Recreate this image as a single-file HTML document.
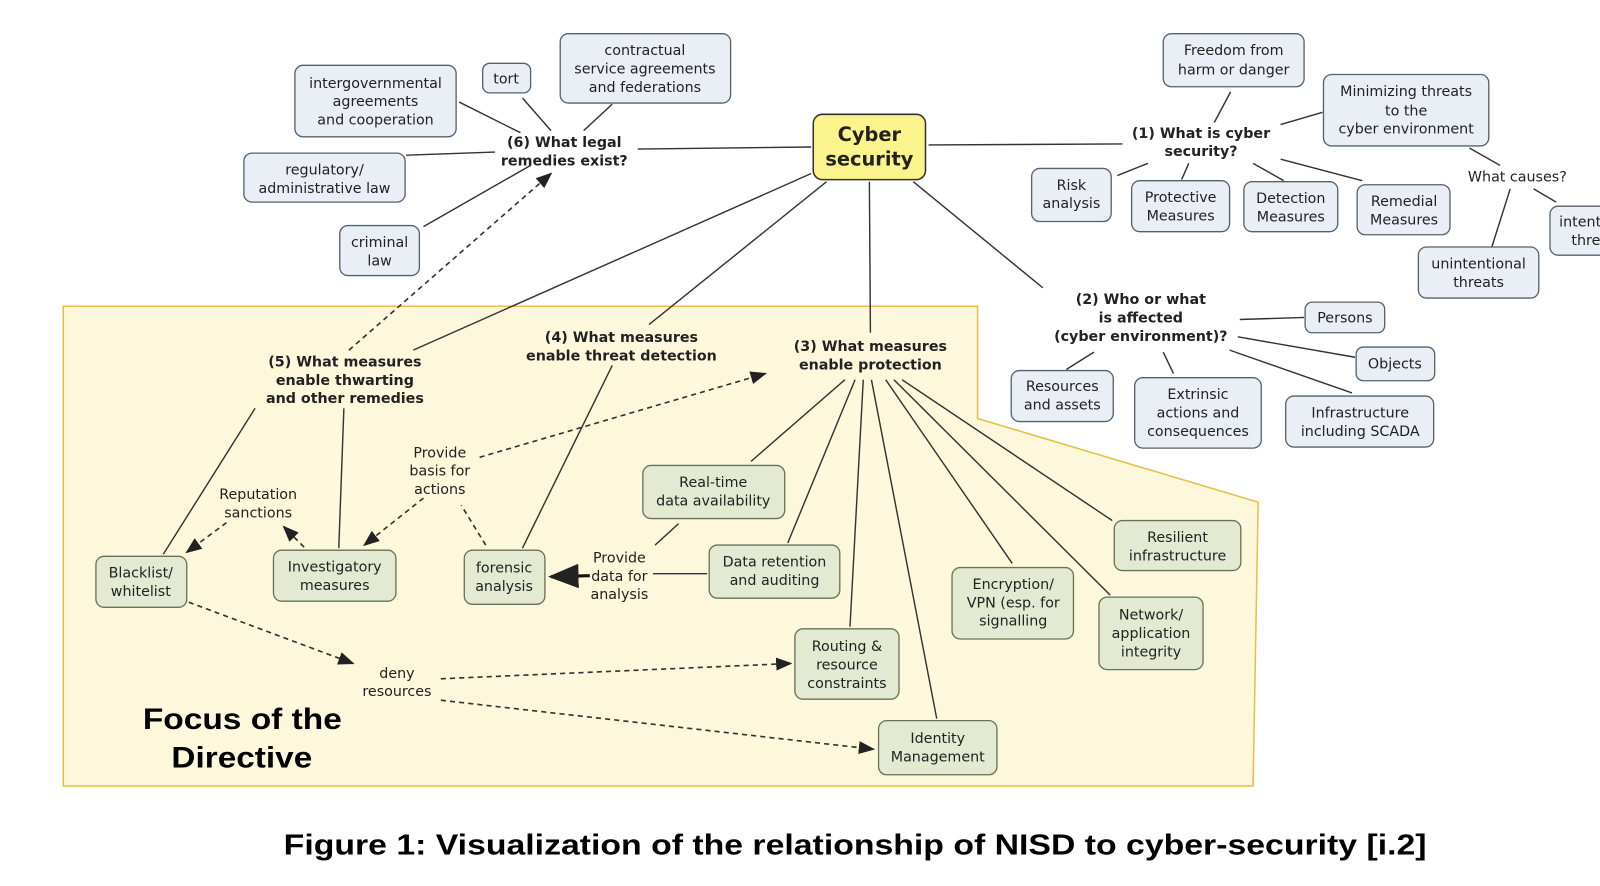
<!DOCTYPE html>
<html><head><meta charset="utf-8"><style>
html,body{margin:0;padding:0;background:#fff;width:1600px;height:886px;overflow:hidden}
svg{display:block}
text{font-family:"DejaVu Sans","Liberation Sans",sans-serif;fill:#222}
.n{font-size:14px}
.b{font-size:14px;font-weight:bold}
.bx{fill:#e9eff5;stroke:#55626e;stroke-width:1.3}
.gx{fill:#e3ead1;stroke:#66735a;stroke-width:1.3}
.l{stroke:#333;stroke-width:1.4;fill:none}
.d{stroke:#333;stroke-width:1.6;fill:none;stroke-dasharray:5,4}
</style></head><body>
<svg width="1600" height="886" viewBox="0 0 1568 868" preserveAspectRatio="none">
<defs><marker id="a" markerWidth="10" markerHeight="10" refX="9" refY="5" orient="auto"><path d="M0,1 L10,5 L0,9 z" fill="#222"/></marker></defs>
<polygon points="62,300 958,300 958,410 1233,492 1228,770 62,770" fill="#fdf8dc" stroke="#e8c040" stroke-width="1.5"/>
<g class="l">
<line x1="625" y1="146" x2="795" y2="144"/><line x1="910" y1="142" x2="1100" y2="141"/>
<line x1="450" y1="100" x2="510" y2="130"/><line x1="512" y1="96" x2="540" y2="128"/><line x1="600" y1="102" x2="572" y2="128"/>
<line x1="398" y1="152" x2="485" y2="149"/><line x1="415" y1="222" x2="520" y2="162"/>
<line x1="1190" y1="120" x2="1206" y2="90"/><line x1="1255" y1="122" x2="1296" y2="110"/>
<line x1="1095" y1="172" x2="1125" y2="160"/><line x1="1158" y1="176" x2="1165" y2="160"/><line x1="1228" y1="160" x2="1258" y2="177"/><line x1="1255" y1="156" x2="1335" y2="177"/>
<line x1="1440" y1="145" x2="1470" y2="162"/><line x1="1480" y1="185" x2="1462" y2="242"/><line x1="1503" y1="185" x2="1525" y2="198"/>
<line x1="895" y1="178" x2="1022" y2="282"/>
<line x1="1215" y1="313" x2="1278" y2="311"/><line x1="1213" y1="330" x2="1328" y2="350"/><line x1="1205" y1="343" x2="1325" y2="385"/>
<line x1="1072" y1="345" x2="1045" y2="362"/><line x1="1140" y1="345" x2="1150" y2="366"/>
<line x1="852" y1="178" x2="853" y2="326"/><line x1="810" y1="178" x2="636" y2="318"/><line x1="795" y1="170" x2="405" y2="343"/>
<line x1="250" y1="400" x2="160" y2="543"/><line x1="337" y1="400" x2="332" y2="537"/><line x1="600" y1="358" x2="512" y2="537"/>
<line x1="828" y1="372" x2="736" y2="452"/><line x1="838" y1="372" x2="772" y2="532"/><line x1="846" y1="372" x2="833" y2="614"/>
<line x1="854" y1="372" x2="918" y2="704"/><line x1="868" y1="372" x2="992" y2="552"/><line x1="876" y1="372" x2="1088" y2="583"/><line x1="884" y1="372" x2="1090" y2="510"/>
<line x1="665" y1="513" x2="642" y2="534"/><line x1="693" y1="562" x2="640" y2="562"/>
</g>
<line x1="578" y1="564" x2="540" y2="565" stroke="#111" stroke-width="3" marker-end="url(#a)"/>
<g class="d">
<line x1="342" y1="343" x2="540" y2="170" marker-end="url(#a)"/>
<line x1="470" y1="448" x2="750" y2="366" marker-end="url(#a)"/>
<line x1="415" y1="488" x2="357" y2="534" marker-end="url(#a)"/>
<line x1="476" y1="534" x2="452" y2="495"/>
<line x1="222" y1="512" x2="183" y2="541" marker-end="url(#a)"/>
<line x1="298" y1="536" x2="278" y2="516" marker-end="url(#a)"/>
<line x1="185" y1="590" x2="346" y2="650" marker-end="url(#a)"/>
<line x1="432" y1="665" x2="775" y2="650" marker-end="url(#a)"/>
<line x1="432" y1="686" x2="856" y2="734" marker-end="url(#a)"/>
</g>
<rect x="797" y="112" width="110" height="64" rx="9" fill="#fbf38c" stroke="#333" stroke-width="1.5"/>
<text class="b" x="852" y="138" text-anchor="middle" style="font-size:19px">Cyber</text>
<text class="b" x="852" y="162" text-anchor="middle" style="font-size:19px">security</text>
<g class="n" text-anchor="middle">
<rect class="bx" x="289" y="64" width="158" height="70" rx="8"/><text x="368" y="86">intergovernmental</text><text x="368" y="104">agreements</text><text x="368" y="122">and cooperation</text>
<rect class="bx" x="473" y="62" width="47" height="29" rx="7"/><text x="496" y="82">tort</text>
<rect class="bx" x="549" y="33" width="167" height="68" rx="8"/><text x="632" y="54">contractual</text><text x="632" y="72">service agreements</text><text x="632" y="90">and federations</text>
<rect class="bx" x="239" y="150" width="158" height="48" rx="8"/><text x="318" y="171">regulatory/</text><text x="318" y="189">administrative law</text>
<rect class="bx" x="333" y="221" width="78" height="49" rx="8"/><text x="372" y="242">criminal</text><text x="372" y="260">law</text>
<rect class="bx" x="1140" y="33" width="138" height="52" rx="8"/><text x="1209" y="54">Freedom from</text><text x="1209" y="73">harm or danger</text>
<rect class="bx" x="1297" y="73" width="162" height="70" rx="8"/><text x="1378" y="94">Minimizing threats</text><text x="1378" y="113">to the</text><text x="1378" y="131">cyber environment</text>
<rect class="bx" x="1011" y="165" width="78" height="52" rx="8"/><text x="1050" y="186">Risk</text><text x="1050" y="204">analysis</text>
<rect class="bx" x="1109" y="177" width="96" height="50" rx="8"/><text x="1157" y="198">Protective</text><text x="1157" y="216">Measures</text>
<rect class="bx" x="1219" y="178" width="92" height="49" rx="8"/><text x="1265" y="199">Detection</text><text x="1265" y="217">Measures</text>
<rect class="bx" x="1330" y="181" width="91" height="49" rx="8"/><text x="1376" y="202">Remedial</text><text x="1376" y="220">Measures</text>
<rect class="bx" x="1390" y="242" width="118" height="50" rx="8"/><text x="1449" y="263">unintentional</text><text x="1449" y="281">threats</text>
<rect class="bx" x="1519" y="202" width="60" height="48" rx="8"/><text x="1528" y="222" text-anchor="start">intent</text><text x="1540" y="240" text-anchor="start">thre</text>
<rect class="bx" x="1279" y="296" width="78" height="30" rx="7"/><text x="1318" y="316">Persons</text>
<rect class="bx" x="1329" y="340" width="77" height="33" rx="7"/><text x="1367" y="361">Objects</text>
<rect class="bx" x="991" y="363" width="100" height="50" rx="8"/><text x="1041" y="383">Resources</text><text x="1041" y="401">and assets</text>
<rect class="bx" x="1112" y="370" width="124" height="69" rx="8"/><text x="1174" y="391">Extrinsic</text><text x="1174" y="409">actions and</text><text x="1174" y="427">consequences</text>
<rect class="bx" x="1260" y="388" width="145" height="50" rx="8"/><text x="1333" y="409">Infrastructure</text><text x="1333" y="427">including SCADA</text>
<text x="1487" y="178">What causes?</text>
</g>
<g class="b" text-anchor="middle">
<text x="553" y="144">(6) What legal</text><text x="553" y="162">remedies exist?</text>
<text x="1177" y="135">(1) What is cyber</text><text x="1177" y="153">security?</text>
<text x="1118" y="298">(2) Who or what</text><text x="1118" y="316">is affected</text><text x="1118" y="334">(cyber environment)?</text>
<text x="853" y="344">(3) What measures</text><text x="853" y="362">enable protection</text>
<text x="609" y="335">(4) What measures</text><text x="609" y="353">enable threat detection</text>
<text x="338" y="359">(5) What measures</text><text x="338" y="377">enable thwarting</text><text x="338" y="395">and other remedies</text>
</g>
<g class="n" text-anchor="middle">
<rect class="gx" x="630" y="456" width="139" height="52" rx="8"/><text x="699" y="477">Real-time</text><text x="699" y="495">data availability</text>
<rect class="gx" x="695" y="534" width="128" height="52" rx="8"/><text x="759" y="555">Data retention</text><text x="759" y="573">and auditing</text>
<rect class="gx" x="94" y="545" width="89" height="50" rx="8"/><text x="138" y="566">Blacklist/</text><text x="138" y="584">whitelist</text>
<rect class="gx" x="268" y="539" width="120" height="50" rx="8"/><text x="328" y="560">Investigatory</text><text x="328" y="578">measures</text>
<rect class="gx" x="455" y="539" width="79" height="53" rx="8"/><text x="494" y="561">forensic</text><text x="494" y="579">analysis</text>
<rect class="gx" x="1092" y="510" width="124" height="49" rx="8"/><text x="1154" y="531">Resilient</text><text x="1154" y="549">infrastructure</text>
<rect class="gx" x="933" y="556" width="119" height="70" rx="8"/><text x="993" y="577">Encryption/</text><text x="993" y="595">VPN (esp. for</text><text x="993" y="613">signalling</text>
<rect class="gx" x="1077" y="585" width="102" height="71" rx="8"/><text x="1128" y="607">Network/</text><text x="1128" y="625">application</text><text x="1128" y="643">integrity</text>
<rect class="gx" x="779" y="616" width="102" height="69" rx="8"/><text x="830" y="638">Routing &amp;</text><text x="830" y="656">resource</text><text x="830" y="674">constraints</text>
<rect class="gx" x="861" y="706" width="116" height="53" rx="8"/><text x="919" y="728">Identity</text><text x="919" y="746">Management</text>
<text x="431" y="448">Provide</text><text x="431" y="466">basis for</text><text x="431" y="484">actions</text>
<text x="253" y="489">Reputation</text><text x="253" y="507">sanctions</text>
<text x="607" y="551">Provide</text><text x="607" y="569">data for</text><text x="607" y="587">analysis</text>
<text x="389" y="664">deny</text><text x="389" y="682">resources</text>
</g>
<text x="140" y="714" textLength="195" lengthAdjust="spacingAndGlyphs" style="font-family:'Liberation Sans',sans-serif;font-size:29px;font-weight:bold;fill:#000">Focus of the</text>
<text x="168" y="752" textLength="138" lengthAdjust="spacingAndGlyphs" style="font-family:'Liberation Sans',sans-serif;font-size:29px;font-weight:bold;fill:#000">Directive</text>
<text x="278" y="837" textLength="1120" lengthAdjust="spacingAndGlyphs" style="font-family:'Liberation Sans',sans-serif;font-size:28px;font-weight:bold;fill:#000">Figure 1: Visualization of the relationship of NISD to cyber-security [i.2]</text>
</svg>
</body></html>
